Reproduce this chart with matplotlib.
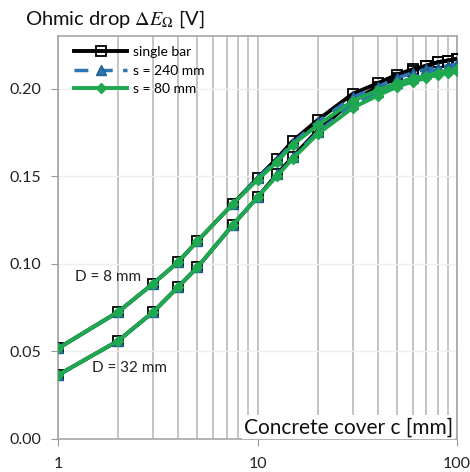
import matplotlib.pyplot as plt

plt.rcParams["font.family"] = ["Lato", "DejaVu Sans"]
plt.rcParams["mathtext.fontset"] = "stix"

# concrete cover c [mm]
cover = [1, 2, 3, 4, 5, 7.5, 10, 12.5, 15, 20, 30, 40, 50, 60, 70, 80, 90, 100]

# ohmic drop [V], D = 8 mm
d8_single = [0.0517, 0.0725, 0.0887, 0.101, 0.113, 0.134, 0.149, 0.160, 0.170,
             0.182, 0.197, 0.203, 0.208, 0.211, 0.213, 0.215, 0.216, 0.217]
d8_s240 = [0.0517, 0.0725, 0.0887, 0.101, 0.113, 0.134, 0.149, 0.159, 0.169,
           0.181, 0.195, 0.201, 0.206, 0.209, 0.211, 0.212, 0.213, 0.214]
d8_s80 = [0.0517, 0.0725, 0.0887, 0.101, 0.113, 0.134, 0.148, 0.158, 0.168,
          0.179, 0.193, 0.199, 0.203, 0.206, 0.207, 0.209, 0.210, 0.211]

# ohmic drop [V], D = 32 mm
d32_single = [0.0365, 0.056, 0.0725, 0.0868, 0.098, 0.122, 0.138, 0.151, 0.161,
              0.176, 0.193, 0.201, 0.206, 0.210, 0.213, 0.215, 0.216, 0.217]
d32_s240 = [0.0365, 0.056, 0.0725, 0.0868, 0.098, 0.122, 0.138, 0.151, 0.161,
            0.175, 0.191, 0.198, 0.203, 0.206, 0.209, 0.211, 0.212, 0.213]
d32_s80 = [0.0365, 0.056, 0.0725, 0.0868, 0.098, 0.122, 0.138, 0.150, 0.160,
           0.174, 0.189, 0.196, 0.201, 0.204, 0.206, 0.208, 0.209, 0.210]

series = [
    ("single bar", d8_single, d32_single, dict(color="black", ls="-", lw=2.8, marker="s",
                                               ms=7.5, mfc="none", mec="black", mew=1.3)),
    ("s = 240 mm", d8_s240, d32_s240, dict(color="#2e75b6", ls=(0, (4, 3)), lw=2.5, marker="^",
                                           ms=6.5, mfc="#2e75b6", mec="#1f5f8f")),
    ("s = 80 mm", d8_s80, d32_s80, dict(color="#1ea84f", ls="-", lw=2.8, marker="D",
                                        ms=5, mfc="#1ea84f", mec="#1ea84f")),
]

fig = plt.figure(figsize=(4.7, 4.72), dpi=100)
ax = fig.add_axes([58 / 470, 1 - 439 / 472, (457 - 58) / 470, (439 - 36) / 472])

for i, (label, y8, y32, style) in enumerate(series):
    ax.plot(cover, y8, label=label, zorder=3 + i, **style)
    ax.plot(cover, y32, zorder=3 + i, **style)

ax.set_xscale("log")
ax.set_xlim(1, 100)
ax.set_ylim(0, 0.23)
ax.set_yticks([0, 0.05, 0.10, 0.15, 0.20])
ax.set_yticklabels(["0.00", "0.05", "0.10", "0.15", "0.20"])
ax.set_xticks([1, 10, 100])
ax.set_xticklabels(["1", "10", "100"])
ax.tick_params(axis="x", which="minor", length=0)
ax.tick_params(axis="both", which="major", length=5, color="#999999",
               labelsize=11.5, labelcolor="#222222")
ax.tick_params(axis="y", pad=7)
ax.tick_params(axis="x", pad=8)

ax.grid(True, axis="x", which="both", color="#c4c4c4", lw=1.4, zorder=0)
ax.grid(True, axis="y", which="major", color="#eeeeee", lw=1.0, zorder=0)
for side in ["left", "bottom", "top", "right"]:
    ax.spines[side].set_color("#a6a6a6")
    ax.spines[side].set_linewidth(1.2)

ax.text(1.78, 0.0923, "D = 8 mm", ha="center", va="center", fontsize=11, color="#222222")
ax.text(2.29, 0.0405, "D = 32 mm", ha="center", va="center", fontsize=11, color="#222222")

ax.text(0.99, 0.004, "Concrete cover c [mm]", transform=ax.transAxes, ha="right",
        va="bottom", fontsize=15, color="#111111", zorder=10,
        bbox=dict(facecolor="white", edgecolor="none", pad=1.5))

ax.legend(loc="upper left", bbox_to_anchor=(0.02, 0.995), frameon=False, fontsize=10,
          handlelength=3.8, handletextpad=0.4, labelspacing=0.45, borderaxespad=0.2)

fig.text(25 / 470, 1 - 19 / 472, r"Ohmic drop $\Delta E_{\Omega}$ [V]", ha="left",
         va="center", fontsize=14.5, color="#111111")

fig.savefig("out.png", dpi=100)
plt.close(fig)
